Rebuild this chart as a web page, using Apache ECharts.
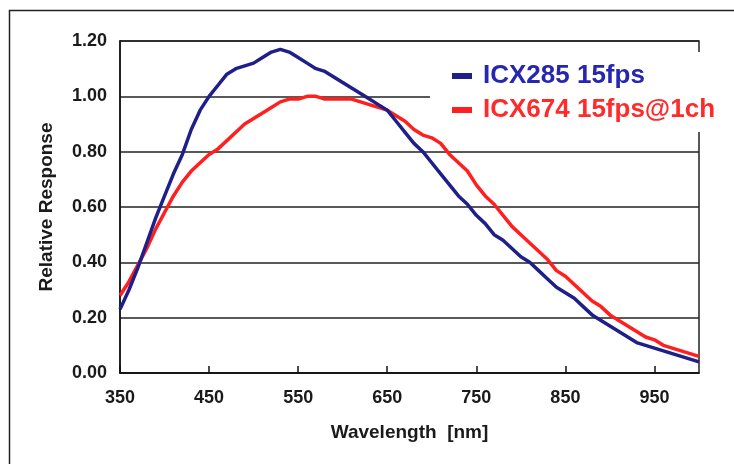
<!DOCTYPE html>
<html>
<head>
<meta charset="utf-8">
<script src="https://cdn.jsdelivr.net/npm/echarts@6/dist/echarts.min.js"></script>
<style>html,body{margin:0;padding:0;background:#fff}#c{width:734px;height:464px}</style>
</head>
<body>
<div id="c"></div>
<script>
const wavelengths = [350,360,370,380,390,400,410,420,430,440,450,460,470,480,490,500,510,520,530,540,550,560,570,580,590,600,610,620,630,640,650,660,670,680,690,700,710,720,730,740,750,760,770,780,790,800,810,820,830,840,850,860,870,880,890,900,910,920,930,940,950,960,970,980,990,1000];
const icx285 = [0.23,0.30,0.38,0.47,0.56,0.64,0.72,0.79,0.88,0.95,1.00,1.04,1.08,1.10,1.11,1.12,1.14,1.16,1.17,1.16,1.14,1.12,1.10,1.09,1.07,1.05,1.03,1.01,0.99,0.97,0.95,0.91,0.87,0.83,0.80,0.76,0.72,0.68,0.64,0.61,0.57,0.54,0.50,0.48,0.45,0.42,0.40,0.37,0.34,0.31,0.29,0.27,0.24,0.21,0.19,0.17,0.15,0.13,0.11,0.10,0.09,0.08,0.07,0.06,0.05,0.04];
const icx674 = [0.28,0.33,0.39,0.45,0.52,0.58,0.64,0.69,0.73,0.76,0.79,0.81,0.84,0.87,0.90,0.92,0.94,0.96,0.98,0.99,0.99,1.00,1.00,0.99,0.99,0.99,0.99,0.98,0.97,0.96,0.95,0.93,0.91,0.88,0.86,0.85,0.83,0.79,0.76,0.73,0.68,0.64,0.61,0.57,0.53,0.50,0.47,0.44,0.41,0.37,0.35,0.32,0.29,0.26,0.24,0.21,0.19,0.17,0.15,0.13,0.12,0.10,0.09,0.08,0.07,0.06];
const xTickValues = [350,450,550,650,750,850,950];
const seriesNames = ['ICX285 15fps','ICX674 15fps@1ch'];
const xTitle = 'Wavelength  [nm]';
const yTitle = 'Relative Response';

const font = '"Liberation Sans", Arial, sans-serif';
const blue = '#1f1f8a';
const red = '#ff1f1f';

const chart = echarts.init(document.getElementById('c'), null, {renderer:'canvas'});
chart.setOption({
  animation: false,
  backgroundColor: '#fff',
  grid: {left:120, right:35, top:41, bottom:91, show:true, borderColor:'#222', borderWidth:1.5, backgroundColor:'transparent'},
  graphic: [{type:'rect', shape:{x:9.5, y:10.5, width:800, height:500}, style:{fill:'none', stroke:'#222', lineWidth:1.5}, z:-1}],
  legend: {
    data: [
      {name: seriesNames[0], textStyle:{color:'#2626b0'}},
      {name: seriesNames[1], textStyle:{color:'#ff2a2a'}}
    ],
    orient:'vertical', left:430, top:52, backgroundColor:'#fff',
    padding:[10,60,8,22], itemWidth:20, itemHeight:6, itemGap:6, icon:'rect',
    textStyle:{fontFamily:font, fontSize:26, fontWeight:'bold', lineHeight:28, padding:[0,0,0,6]}
  },
  xAxis: {
    type:'value', min:350, max:1000,
    name: xTitle, nameLocation:'middle', nameGap:50,
    nameTextStyle:{fontFamily:font, fontSize:19, fontWeight:'bold', color:'#1a1a1a'},
    axisLine:{lineStyle:{color:'#111', width:1.5}},
    axisTick:{show:true, inside:true, length:7, customValues:xTickValues, lineStyle:{color:'#111', width:1.5}},
    axisLabel:{customValues:xTickValues, fontFamily:font, fontSize:18, fontWeight:'bold', color:'#1a1a1a', margin:16},
    splitLine:{show:false}
  },
  yAxis: {
    type:'value', min:0, max:1.2, interval:0.2,
    name: yTitle, nameLocation:'middle', nameGap:64, nameRotate:90,
    nameTextStyle:{fontFamily:font, fontSize:19, fontWeight:'bold', color:'#1a1a1a'},
    axisLine:{show:true, lineStyle:{color:'#111', width:1.5}},
    axisTick:{show:false},
    axisLabel:{formatter:v=>v.toFixed(2), fontFamily:font, fontSize:18, fontWeight:'bold', color:'#1a1a1a', margin:13},
    splitLine:{show:true, lineStyle:{color:'#222', width:1.5}}
  },
  series: [
    {name:seriesNames[1], type:'line', data:wavelengths.map((w,i)=>[w,icx674[i]]), showSymbol:false, lineStyle:{color:red, width:3.5}, itemStyle:{color:red}, z:2},
    {name:seriesNames[0], type:'line', data:wavelengths.map((w,i)=>[w,icx285[i]]), showSymbol:false, lineStyle:{color:blue, width:3.5}, itemStyle:{color:blue}, z:3}
  ]
});
</script>
</body>
</html>
